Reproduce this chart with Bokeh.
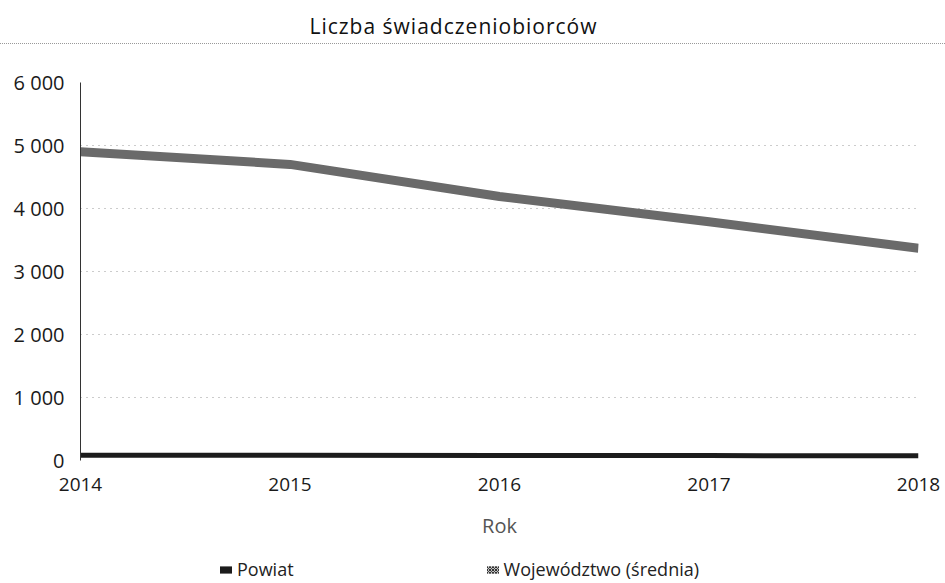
from bokeh.plotting import figure
from bokeh.models import Range1d, FixedTicker, Legend, LegendItem, Div
from bokeh.layouts import column
from bokeh.embed import file_html
from bokeh.resources import INLINE

# ---- data ----
title_text = "Liczba świadczeniobiorców"
x_label = "Rok"
years = [2014, 2015, 2016, 2017, 2018]
year_labels = ["2014", "2015", "2016", "2017", "2018"]
powiat = [85, 83, 80, 78, 75]
wojewodztwo = [4900, 4700, 4190, 3790, 3370]
y_ticks = [0, 1000, 2000, 3000, 4000, 5000, 6000]
y_tick_labels = ["0", "1 000", "2 000", "3 000", "4 000", "5 000", "6 000"]
series_names = ["Powiat", "Województwo (średnia)"]

FONT = "Open Sans"
COL_POWIAT = "#1c1c1c"
COL_WOJ = "#6a6a6a"
NAN = float("nan")

title_div = Div(
    text=('<div style="box-sizing:border-box;width:945px;height:44px;padding-top:8px;'
          'padding-right:38px;line-height:36px;text-align:center;'
          'font-family:\'Open Sans\';font-size:21px;letter-spacing:1px;color:#111;'
          'border-bottom:1px dotted #999;">' + title_text + '</div>'),
    width=945, height=44, margin=(0, 0, 0, 0))

p = figure(frame_width=838, frame_height=378,
           x_range=Range1d(years[0], years[-1]), y_range=Range1d(y_ticks[0], y_ticks[-1]),
           output_backend="svg", toolbar_location=None,
           min_border_left=80, min_border_right=27, min_border_top=38, min_border_bottom=0)
p.outline_line_color = None
p.background_fill_color = "white"
p.border_fill_color = "white"

# y axis
p.yaxis.ticker = FixedTicker(ticks=y_ticks)
p.yaxis.major_label_overrides = dict(zip(y_ticks, y_tick_labels))
p.yaxis.major_tick_line_color = None
p.yaxis.minor_tick_line_color = None
p.yaxis.axis_line_color = "#333333"
p.yaxis.major_label_standoff = 10
p.yaxis.major_label_text_font = FONT
p.yaxis.major_label_text_font_size = "20px"
p.yaxis.major_label_text_color = "#1a1a1a"

# x axis
p.xaxis.ticker = FixedTicker(ticks=years)
p.xaxis.major_label_overrides = dict(zip(years, year_labels))
p.xaxis.major_tick_line_color = None
p.xaxis.minor_tick_line_color = None
p.xaxis.axis_line_color = None
p.xaxis.major_label_standoff = 11
p.xaxis.major_label_text_font = FONT
p.xaxis.major_label_text_font_size = "19px"
p.xaxis.major_label_text_color = "#1a1a1a"
p.xaxis.axis_label = x_label
p.xaxis.axis_label_text_font = FONT
p.xaxis.axis_label_text_font_size = "20px"
p.xaxis.axis_label_text_font_style = "normal"
p.xaxis.axis_label_text_color = "#555555"
p.xaxis.axis_label_standoff = 18

# grid
p.xgrid.grid_line_color = None
p.ygrid.ticker = FixedTicker(ticks=y_ticks)
p.ygrid.grid_line_color = "#999999"
p.ygrid.grid_line_dash = "1 5"
p.ygrid.grid_line_width = 1

# series
p.line(years, powiat, line_width=5, line_color=COL_POWIAT)
p.line(years, wojewodztwo, line_width=9, line_color=COL_WOJ, line_join="round")

# legend strip (separate small figure under the chart)
lf = figure(frame_width=838, frame_height=42, x_range=Range1d(0, 1), y_range=Range1d(0, 1),
            output_backend="svg", toolbar_location=None,
            x_axis_location=None, y_axis_location=None,
            min_border_left=80, min_border_right=27, min_border_top=0, min_border_bottom=0)
lf.outline_line_color = None
lf.xgrid.grid_line_color = None
lf.ygrid.grid_line_color = None
s1 = lf.quad(left=[NAN], right=[NAN], top=[NAN], bottom=[NAN],
             fill_color=COL_POWIAT, line_color=None)
s2 = lf.quad(left=[NAN], right=[NAN], top=[NAN], bottom=[NAN], fill_color="#bdbdbd",
             hatch_pattern="x", hatch_color="#333333", hatch_scale=3, hatch_weight=1,
             line_color=None)
legend = Legend(items=[LegendItem(label=series_names[0], renderers=[s1]),
                       LegendItem(label=series_names[1], renderers=[s2])],
                orientation="horizontal", location=(138, 2), spacing=191,
                glyph_width=15, glyph_height=9, label_standoff=4, padding=0,
                margin=0, label_height=14, border_line_color=None, background_fill_alpha=0,
                label_text_font=FONT, label_text_font_size="18px",
                label_text_color="#222222")
lf.add_layout(legend)

layout = column(title_div, p, lf, spacing=0)
open("out.html", "w").write(file_html(layout, INLINE))
